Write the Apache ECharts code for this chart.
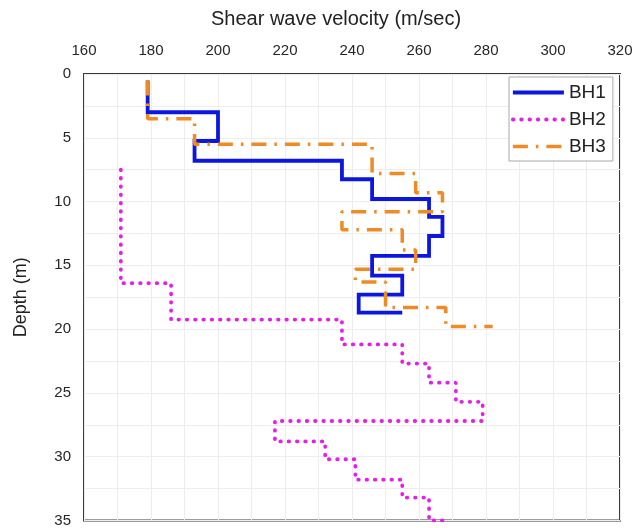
<!DOCTYPE html>
<html>
<head>
<meta charset="utf-8">
<script src="https://cdn.jsdelivr.net/npm/echarts@6/dist/echarts.min.js"></script>
<style>
  html, body { margin: 0; padding: 0; background: #ffffff; }
  #chart { width: 636px; height: 528px; }
</style>
</head>
<body>
<div id="chart"></div>
<script>
// Shear wave velocity profiles: each layer has a top depth (m) and a velocity (m/sec);
// the last layer of each borehole ends at its base depth.
const seriesNames = ['BH1', 'BH2', 'BH3'];

const bh1Tops = [0.5, 3, 5.25, 6.8, 8.25, 9.8, 11.2, 12.7, 14.25, 15.8, 17.3, 18.7];
const bh1Vs   = [179, 200, 193, 237, 246, 263, 267, 263, 246, 255, 242, 255];
const bh1Base = 18.7;

const bh2Tops = [7.5, 16.4, 19.25, 21.2, 22.7, 24.2, 25.7, 27.2, 28.8, 30.2, 31.8, 33.2, 35];
const bh2Vs   = [171, 186, 237, 255, 263, 271, 279, 217, 232, 241, 255, 263, 269];
const bh2Base = 35;

const bh3Tops = [0.5, 3.5, 5.5, 7.8, 9.3, 10.8, 12.2, 13.8, 15.3, 16.3, 18.3, 19.8];
const bh3Vs   = [179, 193, 246, 259, 267, 237, 255, 259, 241, 250, 268, 282];
const bh3Base = 19.8;

// x axis (velocity) and y axis (depth) ranges
const velMin = 160, velMax = 320, velStep = 20;
const depthMin = 0, depthMax = 35, depthStep = 5;

// Turn layers into the corner points of a stepped profile
function profile(tops, vs, base) {
  const pts = [];
  for (let i = 0; i < tops.length; i++) {
    const bottom = i + 1 < tops.length ? tops[i + 1] : base;
    pts.push([vs[i], tops[i]]);
    pts.push([vs[i], bottom]);
  }
  return pts;
}

const font = '"Liberation Sans", Arial, sans-serif';
const chart = echarts.init(document.getElementById('chart'), null, { renderer: 'canvas' });

chart.setOption({
  backgroundColor: '#ffffff',
  animation: false,
  grid: {
    left: 84, right: 16, top: 74, bottom: 7,
    show: true, borderColor: '#3a3a3a', borderWidth: 2, backgroundColor: 'transparent'
  },
  graphic: [{
    type: 'text',
    left: 211, top: 9,
    style: { text: 'Shear wave velocity (m/sec)', font: '20px ' + font, fill: '#222222' }
  }],
  legend: {
    data: seriesNames,
    orient: 'vertical',
    left: 509, top: 77,
    itemWidth: 51, itemHeight: 14, itemGap: 8,
    padding: [6, 7, 5, 2],
    backgroundColor: '#ffffff',
    borderColor: '#a8a8a8', borderWidth: 1, borderRadius: 0,
    itemStyle: { opacity: 0 },
    lineStyle: { width: 'inherit' },
    textStyle: { fontFamily: font, fontSize: 19, color: '#222222' }
  },
  xAxis: {
    type: 'value', position: 'top',
    min: velMin, max: velMax, interval: velStep,
    axisLine: { show: false }, axisTick: { show: false },
    axisLabel: { fontFamily: font, fontSize: 15, color: '#262626', margin: 16 },
    splitLine: { show: true, lineStyle: { color: '#ededed', width: 1 } },
    minorTick: { show: false, splitNumber: 2 },
    minorSplitLine: { show: true, lineStyle: { color: '#ededed', width: 1 } }
  },
  yAxis: {
    type: 'value', inverse: true,
    min: depthMin, max: depthMax, interval: depthStep,
    name: 'Depth (m)', nameLocation: 'middle', nameGap: 54,
    nameTextStyle: { fontFamily: font, fontSize: 18, color: '#222222' },
    axisLine: { show: false }, axisTick: { show: false },
    axisLabel: { fontFamily: font, fontSize: 15, color: '#262626', margin: 13 },
    splitLine: { show: true, lineStyle: { color: '#ededed', width: 1 } },
    minorTick: { show: false, splitNumber: 2 },
    minorSplitLine: { show: true, lineStyle: { color: '#ededed', width: 1 } }
  },
  series: [
    {
      name: 'BH1', type: 'line', symbol: 'none', z: 3,
      data: profile(bh1Tops, bh1Vs, bh1Base),
      lineStyle: { color: '#0b16e0', width: 3.8, join: 'miter' },
      itemStyle: { color: '#0b16e0' }
    },
    {
      name: 'BH2', type: 'line', symbol: 'none', z: 4,
      data: profile(bh2Tops, bh2Vs, bh2Base),
      lineStyle: { color: '#e61ee6', width: 3.8, type: [0.5, 7.8], cap: 'round' },
      itemStyle: { color: '#e61ee6' }
    },
    {
      name: 'BH3', type: 'line', symbol: 'none', z: 5,
      data: profile(bh3Tops, bh3Vs, bh3Base),
      lineStyle: { color: '#f08a24', width: 3.5, type: [15, 8, 2.5, 8] },
      itemStyle: { color: '#f08a24' }
    }
  ]
});
</script>
</body>
</html>
